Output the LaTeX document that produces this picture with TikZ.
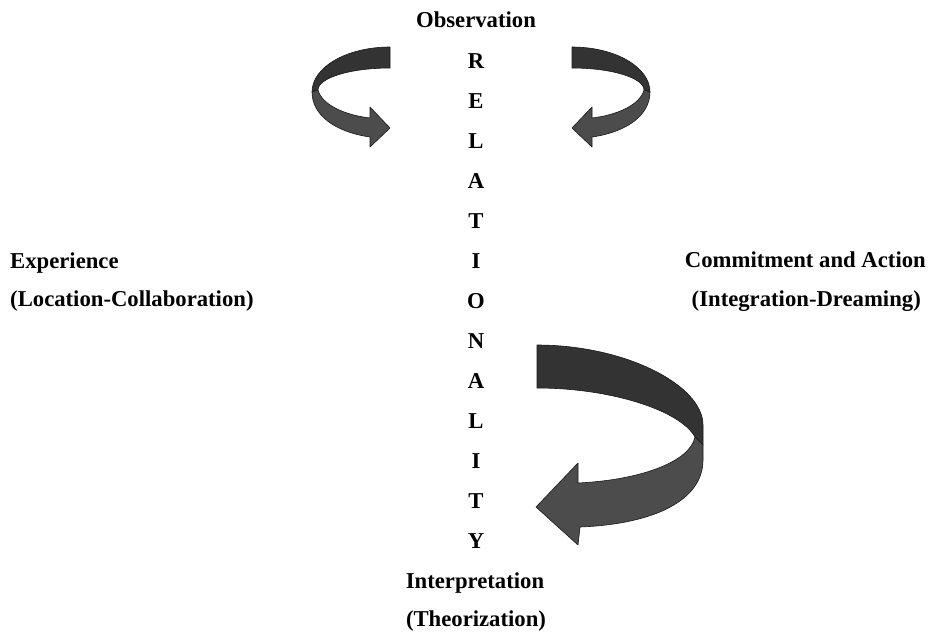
\documentclass[tikz,border=0pt]{standalone}
\usepackage{fontspec}
\setmainfont{Liberation Serif}
\begin{document}
\begin{tikzpicture}[x=1pt,y=-1pt,
  lbl/.style={font=\fontsize{22.7}{27}\selectfont\bfseries, inner sep=0pt, anchor=base},
  darkband/.style={fill=black!80, draw=black!90, line width=0.6pt, line join=round},
  lightband/.style={fill=black!70, draw=black!90, line width=0.6pt, line join=round}]
\useasboundingbox (0,0) rectangle (934,633);

% small curved arrow (left), mirrored on the right
\foreach \sc/\sh in {1/0,-1/962}{
\begin{scope}[shift={(\sh,0)}, xscale=\sc]
\path[darkband] (390,47) .. controls (347,47) and (312,67) .. (312,92) -- (318,90)
   .. controls (318,78) and (350,68) .. (390,68) -- cycle;
\path[lightband] (318,90) .. controls (322,105) and (345,115) .. (370,118) -- (370,107)
   -- (390,128) -- (370,147) -- (370,137) .. controls (335,132) and (312,115) .. (312,92) -- cycle;
\end{scope}}

% big curved arrow
\path[darkband] (537,345) .. controls (625,345) and (703,385) .. (703,425) -- (703,445) -- (695,437)
   .. controls (680,410) and (610,388) .. (537,388) -- cycle;
\path[lightband] (695,437) .. controls (690,462) and (640,480) .. (578,483) -- (578,463)
   -- (536,507) -- (578,545) -- (580,527) .. controls (655,524) and (703,500) .. (703,460) -- (703,445) -- cycle;

% texts
\node[lbl] (obs) at (476,27) {Observation};
\foreach \l [count=\i from 0] in {R,E,L,A,T,I,O,N,A,L,I,T,Y}{
  \node[lbl] (rel\i) at (476,{68+40*\i}) {\l};
}
\node[lbl, anchor=base west] (exp) at (10,268) {Experience};
\node[lbl, anchor=base west] (loc) at (10,306) {(Location-Collaboration)};
\node[lbl, anchor=base east] (com) at (926,267) {Commitment and Action};
\node[lbl, anchor=base east] (intg) at (921,306) {(Integration-Dreaming)};
\node[lbl] (interp) at (475,588) {Interpretation};
\node[lbl] (theo) at (476,626) {(Theorization)};
\end{tikzpicture}
\end{document}
